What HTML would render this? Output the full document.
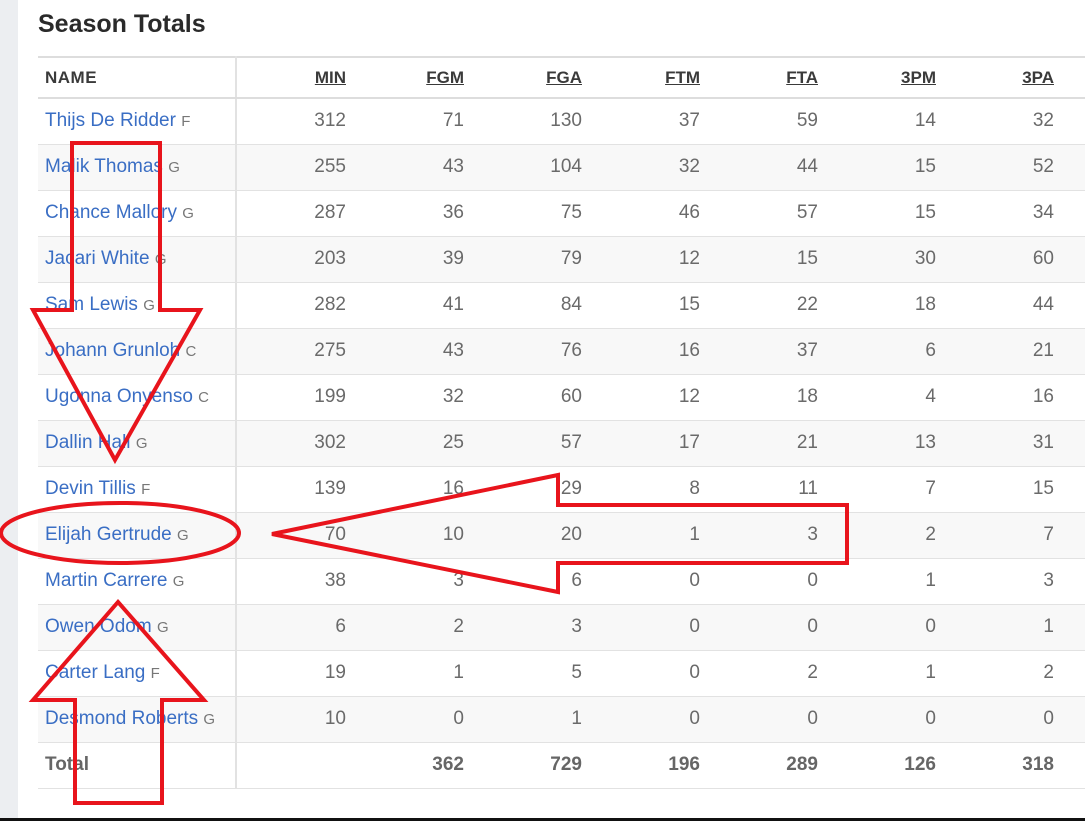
<!DOCTYPE html>
<html><head><meta charset="utf-8"><style>
body{margin:0;width:1085px;height:821px;background:#fff;position:relative;overflow:hidden;font-family:"Liberation Sans",sans-serif;}
.strip{position:absolute;left:0;top:0;width:18px;height:821px;background:#eceef1;}
.bot{position:absolute;left:0;top:818px;width:1085px;height:3px;background:#111;}
h1{position:absolute;left:38px;top:10px;margin:0;font-size:25px;font-weight:bold;color:#2a2a2a;}
table{position:absolute;left:38px;top:56px;border-collapse:collapse;width:1047px;table-layout:fixed;}
td,th{height:46px;border-top:1px solid #e2e2e2;padding:0 8px 0 0;font-size:19px;color:#6a6a6a;text-align:right;box-sizing:border-box;}
th{height:41px;font-size:17px;color:#3a3a3a;font-weight:bold;border-top:2px solid #ddd;border-bottom:2px solid #ddd;}
th.n{text-align:left;padding-left:7px;letter-spacing:0.5px}
th u{text-decoration:underline;}
td.n{text-align:left;padding-left:7px;color:#3a6ec4;border-right:2px solid #e2e2e2;white-space:nowrap;}
th.n{border-right:2px solid #e2e2e2;}
td.n span{color:#777;font-size:15px;}
td:last-child,th:last-child{padding-right:31px;}
tr.g td{background:#f8f8f8;}
tr.t td{font-weight:bold;border-bottom:1px solid #e2e2e2;color:#666;}
svg{position:absolute;left:0;top:0;}
</style></head><body>
<div class="strip"></div>
<h1>Season Totals</h1>
<table>
<colgroup><col style="width:198px"><col style="width:118px"><col style="width:118px"><col style="width:118px"><col style="width:118px"><col style="width:118px"><col style="width:118px"><col style="width:141px"></colgroup>
<tr><th class="n">NAME</th><th><u>MIN</u></th><th><u>FGM</u></th><th><u>FGA</u></th><th><u>FTM</u></th><th><u>FTA</u></th><th><u>3PM</u></th><th><u>3PA</u></th></tr>
<tr><td class="n">Thijs De Ridder <span>F</span></td><td>312</td><td>71</td><td>130</td><td>37</td><td>59</td><td>14</td><td>32</td></tr>
<tr class="g"><td class="n">Malik Thomas <span>G</span></td><td>255</td><td>43</td><td>104</td><td>32</td><td>44</td><td>15</td><td>52</td></tr>
<tr><td class="n">Chance Mallory <span>G</span></td><td>287</td><td>36</td><td>75</td><td>46</td><td>57</td><td>15</td><td>34</td></tr>
<tr class="g"><td class="n">Jacari White <span>G</span></td><td>203</td><td>39</td><td>79</td><td>12</td><td>15</td><td>30</td><td>60</td></tr>
<tr><td class="n">Sam Lewis <span>G</span></td><td>282</td><td>41</td><td>84</td><td>15</td><td>22</td><td>18</td><td>44</td></tr>
<tr class="g"><td class="n">Johann Grunloh <span>C</span></td><td>275</td><td>43</td><td>76</td><td>16</td><td>37</td><td>6</td><td>21</td></tr>
<tr><td class="n">Ugonna Onyenso <span>C</span></td><td>199</td><td>32</td><td>60</td><td>12</td><td>18</td><td>4</td><td>16</td></tr>
<tr class="g"><td class="n">Dallin Hall <span>G</span></td><td>302</td><td>25</td><td>57</td><td>17</td><td>21</td><td>13</td><td>31</td></tr>
<tr><td class="n">Devin Tillis <span>F</span></td><td>139</td><td>16</td><td>29</td><td>8</td><td>11</td><td>7</td><td>15</td></tr>
<tr class="g"><td class="n">Elijah Gertrude <span>G</span></td><td>70</td><td>10</td><td>20</td><td>1</td><td>3</td><td>2</td><td>7</td></tr>
<tr><td class="n">Martin Carrere <span>G</span></td><td>38</td><td>3</td><td>6</td><td>0</td><td>0</td><td>1</td><td>3</td></tr>
<tr class="g"><td class="n">Owen Odom <span>G</span></td><td>6</td><td>2</td><td>3</td><td>0</td><td>0</td><td>0</td><td>1</td></tr>
<tr><td class="n">Carter Lang <span>F</span></td><td>19</td><td>1</td><td>5</td><td>0</td><td>2</td><td>1</td><td>2</td></tr>
<tr class="g"><td class="n">Desmond Roberts <span>G</span></td><td>10</td><td>0</td><td>1</td><td>0</td><td>0</td><td>0</td><td>0</td></tr>
<tr class="t"><td class="n" style="color:#666">Total</td><td></td><td>362</td><td>729</td><td>196</td><td>289</td><td>126</td><td>318</td></tr>
</table>
<div class="bot"></div>
<svg width="1085" height="821" fill="none" stroke="#e8141c" stroke-width="4">
<polygon points="72,143 160,143 160,310 200,310 115,460 33,310 72,310"/>
<ellipse cx="120" cy="533" rx="119" ry="30"/>
<polygon points="272,534 558,475 558,505 847,505 847,563 558,563 558,592"/>
<polygon points="118,602 204,700 162,700 162,803 75,803 75,700 33,700"/>
</svg>
</body></html>
